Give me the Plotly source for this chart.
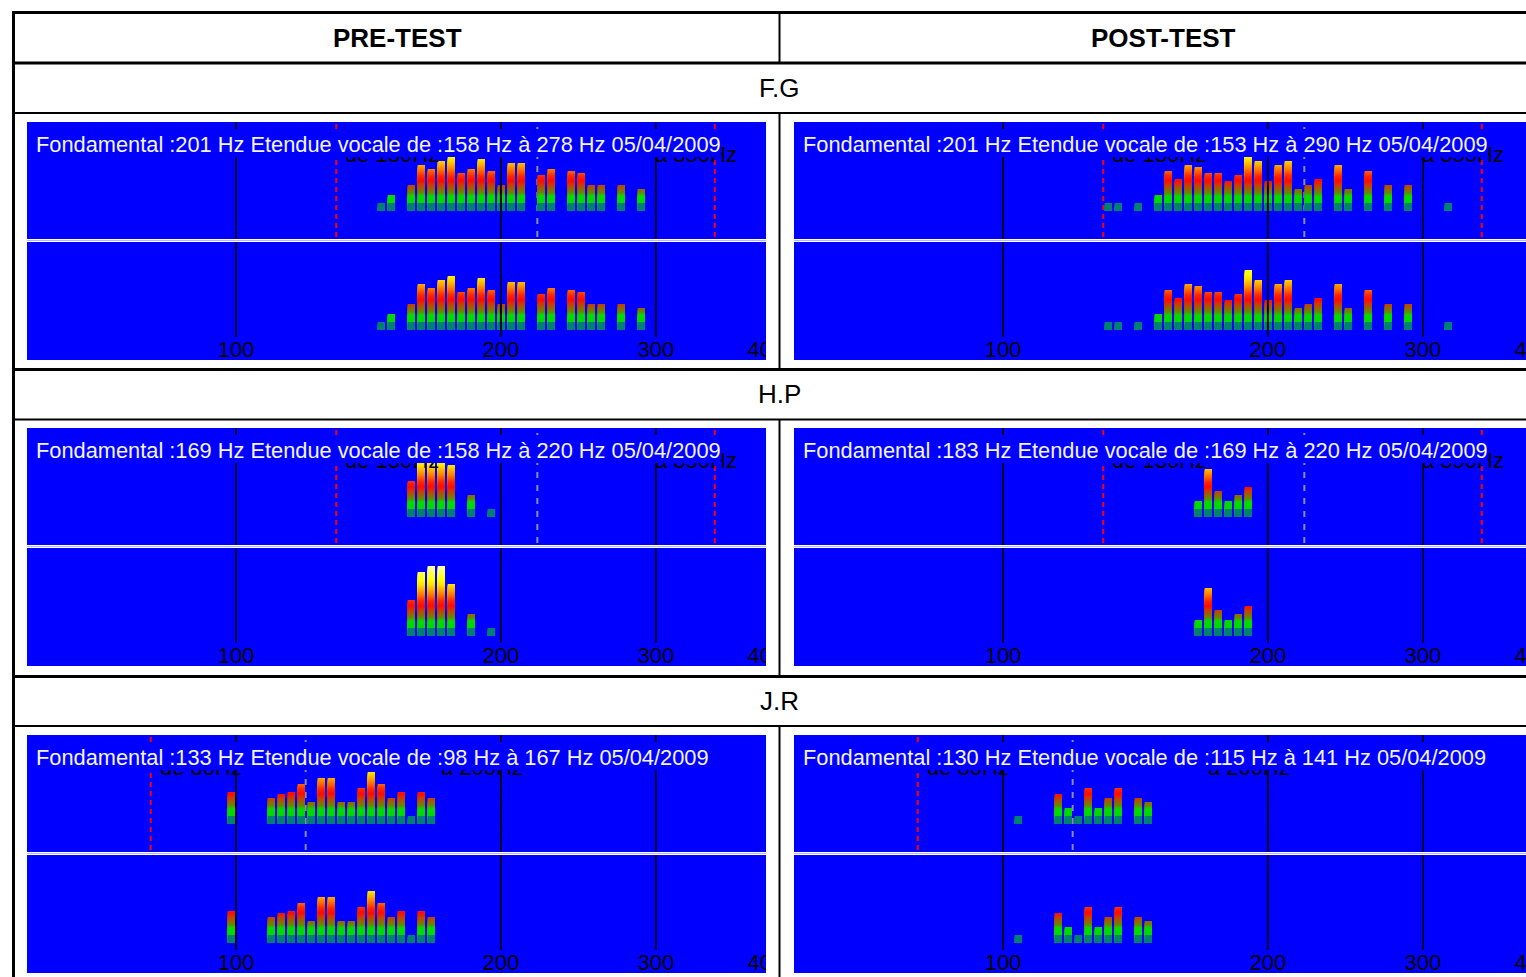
import numpy as np
import plotly.graph_objects as go

W, H = 1526, 977

# ----------------------------- data -----------------------------
# spectral bins: centre frequency (Hz) and displayed energy level
fg_pre_hz = [146.27, 150.15, 158.21, 162.41, 166.71, 171.13, 175.67, 180.33, 185.11, 190.01, 195.05,
             200.22, 205.53, 210.98, 222.32, 228.21, 240.47, 246.85, 253.39, 260.11, 274.08, 288.81]
fg_pre_lvl = [8, 16, 26, 46, 42, 50, 54, 38, 42, 52, 40, 26, 48, 48, 36, 42, 40, 38, 26, 26, 26, 22]

fg_post_hz = [131.73, 135.23, 142.49, 150.15, 154.13, 158.21, 162.41, 166.71, 171.13, 175.67, 180.33,
              185.11, 190.01, 195.05, 200.22, 205.53, 210.98, 216.57, 222.32, 228.21, 240.47, 246.85,
              260.11, 274.08, 288.81, 320.67]
fg_post_lvl = [8, 8, 8, 16, 40, 32, 46, 44, 38, 38, 30, 36, 60, 50, 30, 46, 50, 22, 26, 32, 46, 22,
               40, 26, 26, 8]

hp_pre_hz = [158.21, 162.41, 166.71, 171.13, 175.67, 185.11, 195.05]
hp_pre_lvl = [36, 64, 70, 70, 52, 22, 8]

hp_post_hz = [166.71, 171.13, 175.67, 180.33, 185.11, 190.01]
hp_post_lvl = [16, 48, 26, 16, 22, 30]

jr_pre_hz = [98.79, 109.69, 112.59, 115.58, 118.64, 121.79, 125.02, 128.33, 131.73, 135.23, 138.81,
             142.49, 146.27, 150.15, 154.13, 158.21, 162.41, 166.71]
jr_pre_lvl = [32, 26, 30, 32, 40, 22, 46, 46, 22, 22, 36, 52, 40, 26, 32, 8, 32, 26]

jr_post_hz = [104.09, 115.58, 118.64, 121.79, 125.02, 128.33, 131.73, 135.23, 142.49, 146.27]
jr_post_lvl = [8, 30, 16, 8, 36, 16, 26, 36, 26, 22]

tick_hz = [100, 200, 300, 400]
tick_text = ["100", "200", "300", "400"]
grid_hz = [100, 200, 300]

subjects = ["F.G", "H.P", "J.R"]
range_low_hz = {"F.G": 130, "H.P": 130, "J.R": 80}
range_high_hz = {"F.G": 350, "H.P": 350, "J.R": 200}
ref_hz = {"F.G": 220, "H.P": 220, "J.R": 120}

col_headers = ["PRE-TEST", "POST-TEST"]

titles = {
    ("F.G", 0): "Fondamental :201 Hz Etendue vocale de :158 Hz à 278 Hz 05/04/2009",
    ("F.G", 1): "Fondamental :201 Hz Etendue vocale de :153 Hz à 290 Hz 05/04/2009",
    ("H.P", 0): "Fondamental :169 Hz Etendue vocale de :158 Hz à 220 Hz 05/04/2009",
    ("H.P", 1): "Fondamental :183 Hz Etendue vocale de :169 Hz à 220 Hz 05/04/2009",
    ("J.R", 0): "Fondamental :133 Hz Etendue vocale de :98 Hz à 167 Hz 05/04/2009",
    ("J.R", 1): "Fondamental :130 Hz Etendue vocale de :115 Hz à 141 Hz 05/04/2009",
}
spectra = {
    ("F.G", 0): (fg_pre_hz, fg_pre_lvl), ("F.G", 1): (fg_post_hz, fg_post_lvl),
    ("H.P", 0): (hp_pre_hz, hp_pre_lvl), ("H.P", 1): (hp_post_hz, hp_post_lvl),
    ("J.R", 0): (jr_pre_hz, jr_pre_lvl), ("J.R", 1): (jr_post_hz, jr_post_lvl),
}

# ----------------------------- styles / geometry -----------------------------
NARROW = "Liberation Sans, Arial, sans-serif"
SANS = "Liberation Sans, Arial, sans-serif"
BLUE = "#0000ff"
GRID = "#00002a"
PX_PER_DEC = 880.0
X_LEFT = 2 - 209 / PX_PER_DEC
BAR_W = 7.3 / PX_PER_DEC
ROW_TOP = [122, 428, 735]
COL_X = [(27, 766), (794, 1526)]

STOP_H = [0, 7.5, 8.5, 15, 18, 22, 26, 30, 35, 41, 46, 51, 56, 70]
STOP_RGB = [(0, 128, 112), (0, 128, 112), (0, 215, 0), (0, 220, 0), (100, 140, 0), (150, 100, 0),
            (205, 60, 0), (255, 10, 0), (255, 40, 0), (255, 115, 0), (255, 170, 0), (255, 225, 0),
            (255, 255, 0), (255, 255, 180)]


def level_color(h):
    r = np.interp(h, STOP_H, [c[0] for c in STOP_RGB])
    g = np.interp(h, STOP_H, [c[1] for c in STOP_RGB])
    b = np.interp(h, STOP_H, [c[2] for c in STOP_RGB])
    return "rgb(%d,%d,%d)" % (round(r), round(g), round(b))


def bar_trace(hz, lvl, xa, ya):
    xs, ys, cols = [], [], []
    top = int(np.ceil(max(lvl)))
    for L in range(top, 0, -1):
        for f, h in zip(hz, lvl):
            if h > L - 1:
                xs.append(np.log10(f))
                ys.append(min(h, L))
                cols.append(level_color(L - 0.5))
    return go.Bar(x=xs, y=ys, base=0, width=BAR_W, xaxis=xa, yaxis=ya,
                  marker=dict(color=cols, line=dict(width=0)),
                  hoverinfo="skip", showlegend=False)


def px(xp):
    return xp / W


def py(yp):
    return 1 - yp / H


fig = go.Figure()
axes = {}
shapes = []
annotations = []
n = 0
for r, subj in enumerate(subjects):
    t = ROW_TOP[r]
    for c in range(2):
        x0, x1 = COL_X[c]
        xr = [X_LEFT, X_LEFT + (x1 - x0) / PX_PER_DEC]
        hz, lvl = spectra[(subj, c)]
        for half in (0, 1):
            n += 1
            sfx = "" if n == 1 else str(n)
            xa, ya = "x" + sfx, "y" + sfx
            if half == 0:
                ytop, ybot, yr = t, t + 117, [-28, 89]
            else:
                ytop, ybot, yr = t + 120, t + 238, [-30, 88]
            axes["xaxis" + sfx] = dict(domain=[px(x0), px(x1)], range=xr, anchor=ya,
                                       visible=False, fixedrange=True)
            axes["yaxis" + sfx] = dict(domain=[py(ybot), py(ytop)], range=yr, anchor=xa,
                                       visible=False, fixedrange=True)
            fig.add_trace(bar_trace(hz, lvl, xa, ya))
            # grid lines (drawn over bars)
            for g in grid_hz:
                shapes.append(dict(type="line", xref=xa, yref=ya, x0=np.log10(g), x1=np.log10(g),
                                   y0=yr[0] if half == 0 else -7, y1=yr[1],
                                   line=dict(color=GRID, width=2), layer="above"))
            if half == 0:
                for f in (range_low_hz[subj], range_high_hz[subj]):
                    shapes.append(dict(type="line", xref=xa, yref=ya, x0=np.log10(f), x1=np.log10(f),
                                       y0=-26, y1=89, line=dict(color="#ff0000", width=2, dash="5px,4px"),
                                       layer="below"))
                shapes.append(dict(type="line", xref=xa, yref=ya, x0=np.log10(ref_hz[subj]),
                                   x1=np.log10(ref_hz[subj]), y0=-26, y1=89,
                                   line=dict(color="#8c8ca8", width=2, dash="6px,7px"), layer="below"))
                annotations.append(dict(xref=xa, yref=ya, x=np.log10(range_low_hz[subj]), y=56.6,
                                        xshift=9, xanchor="left", yanchor="middle", showarrow=False,
                                        text="de %dHz" % range_low_hz[subj], borderwidth=0, borderpad=0,
                                        font=dict(family=NARROW, size=22, color="black")))
                annotations.append(dict(xref=xa, yref=ya, x=np.log10(range_high_hz[subj]), y=56.6,
                                        xshift=-60, xanchor="left", yanchor="middle", showarrow=False,
                                        text="à %dHz" % range_high_hz[subj], borderwidth=0, borderpad=0,
                                        font=dict(family=NARROW, size=22, color="black")))
                annotations.append(dict(xref=xa, yref=ya, x=X_LEFT + 9 / PX_PER_DEC, y=68,
                                        xanchor="left", yanchor="middle", showarrow=False,
                                        height=28, valign="bottom",
                                        text=titles[(subj, c)], bgcolor=BLUE, borderwidth=0, borderpad=0,
                                        font=dict(family=NARROW, size=21.8, color="#f4f4ff")))
            else:
                fig.add_trace(go.Scatter(x=np.log10(tick_hz), y=[-21.3] * len(tick_hz), text=tick_text,
                                         mode="text", textposition="middle center", cliponaxis=True,
                                         textfont=dict(family=NARROW, size=22, color="black"),
                                         xaxis=xa, yaxis=ya, hoverinfo="skip", showlegend=False))
        # separator between the two halves
        shapes.append(dict(type="line", xref="paper", yref="paper", x0=px(x0), x1=px(x1),
                           y0=py(t + 118.5), y1=py(t + 118.5), line=dict(color="#b4b4ff", width=1)))

# ----------------------------- table frame -----------------------------
def hline(y, w, xa=12, xb=1526):
    shapes.append(dict(type="line", xref="paper", yref="paper", x0=px(xa), x1=px(xb),
                       y0=py(y), y1=py(y), line=dict(color="black", width=w)))


def vline(x, ya, yb, w):
    shapes.append(dict(type="line", xref="paper", yref="paper", x0=px(x), x1=px(x),
                       y0=py(ya), y1=py(yb), line=dict(color="black", width=w)))


hline(12.5, 3)
hline(63, 3)
hline(113, 2)
hline(369.5, 3)
hline(419.5, 2)
hline(676.5, 3)
hline(726, 2)
vline(13.5, 11, 977, 3)
vline(779.5, 14, 62, 2)
for a, b in [(114, 369), (420, 676), (727, 977)]:
    vline(779.5, a, b, 2)

annotations.append(dict(xref="paper", yref="paper", x=px(397), y=py(38), xanchor="center", yanchor="middle",
                        text="<b>%s</b>" % col_headers[0],
                        showarrow=False, font=dict(family=SANS, size=26, color="black")))
annotations.append(dict(xref="paper", yref="paper", x=px(1163), y=py(38), xanchor="center", yanchor="middle",
                        text="<b>%s</b>" % col_headers[1],
                        showarrow=False, font=dict(family=SANS, size=26, color="black")))
for r, subj in enumerate(subjects):
    annotations.append(dict(xref="paper", yref="paper", x=px(779), y=py(ROW_TOP[r] - 34),
                            xanchor="center", yanchor="middle", text=subj,
                            showarrow=False, font=dict(family=SANS, size=26, color="black")))

fig.update_layout(width=W, height=H, margin=dict(l=0, r=0, t=0, b=0), autosize=False,
                  paper_bgcolor="white", plot_bgcolor=BLUE, barmode="overlay",
                  shapes=shapes, annotations=annotations, showlegend=False, **axes)

fig.write_html("out.html", config={"displayModeBar": False, "staticPlot": True},
               post_script="document.body.style.margin='0';document.body.style.overflow='hidden';")
